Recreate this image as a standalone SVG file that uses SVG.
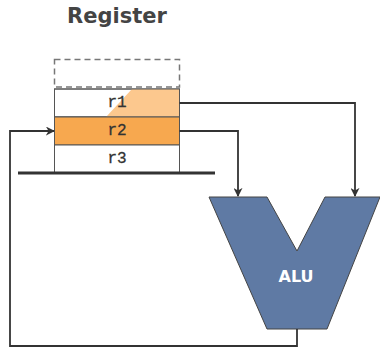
<svg xmlns="http://www.w3.org/2000/svg" width="380" height="348" viewBox="0 0 380 348">
  <defs>
    <marker id="arrow" viewBox="0 0 10 10" refX="9" refY="5" markerWidth="9" markerHeight="9" markerUnits="userSpaceOnUse" orient="auto">
      <path d="M0,0 L10,5 L0,10 L3,5 Z" fill="#333"/>
    </marker>
    <style>
      .title { font-family: "DejaVu Sans", sans-serif; font-weight: bold; font-size: 21px; fill: #444; }
      .reg { font-family: "Liberation Mono", monospace; font-size: 16px; fill: #333; text-anchor: middle; stroke: #333; stroke-width: 0.3; }
      .cell { stroke: #555; stroke-width: 1; }
      .wire { fill: none; stroke: #333; stroke-width: 1.8; }
      .alu-label { font-family: "DejaVu Sans", sans-serif; font-weight: bold; font-size: 16px; fill: #fff; text-anchor: middle; }
    </style>
  </defs>

  <text class="title" x="117" y="23" text-anchor="middle">Register</text>

  <g id="register">
    <rect x="54.5" y="59.5" width="125" height="27.5" fill="none" stroke="#777" stroke-width="1.5" stroke-dasharray="6,4"/>
    <g id="r1">
      <rect class="cell" x="54.5" y="89" width="125" height="28" fill="#fff"/>
      <polygon points="106,117 132,89 179.5,89 179.5,117" fill="#FCC88E"/>
      <rect x="54.5" y="89" width="125" height="28" fill="none" stroke="#555"/>
      <text class="reg" x="117" y="106.5">r1</text>
    </g>
    <g id="r2">
      <rect class="cell" x="54.5" y="117" width="125" height="28" fill="#F7A84F"/>
      <text class="reg" x="117" y="135">r2</text>
    </g>
    <g id="r3">
      <rect class="cell" x="54.5" y="145" width="125" height="28" fill="#fff"/>
      <text class="reg" x="117" y="163">r3</text>
    </g>
    <line x1="18" y1="173" x2="215" y2="173" stroke="#333" stroke-width="3"/>
  </g>

  <g id="alu">
    <polygon points="209,197 267,197 297,251 325,197 380,197 327,329 267,329" fill="#5F7AA4" stroke="#444" stroke-width="1"/>
    <text class="alu-label" x="296" y="282">ALU</text>
  </g>

  <g id="connectors">
    <path class="wire" d="M179.5,103 H355 V196" marker-end="url(#arrow)"/>
    <path class="wire" d="M179.5,131 H238 V196" marker-end="url(#arrow)"/>
    <path class="wire" d="M297,329 V346 H10 V131 H54" marker-end="url(#arrow)"/>
  </g>
</svg>
